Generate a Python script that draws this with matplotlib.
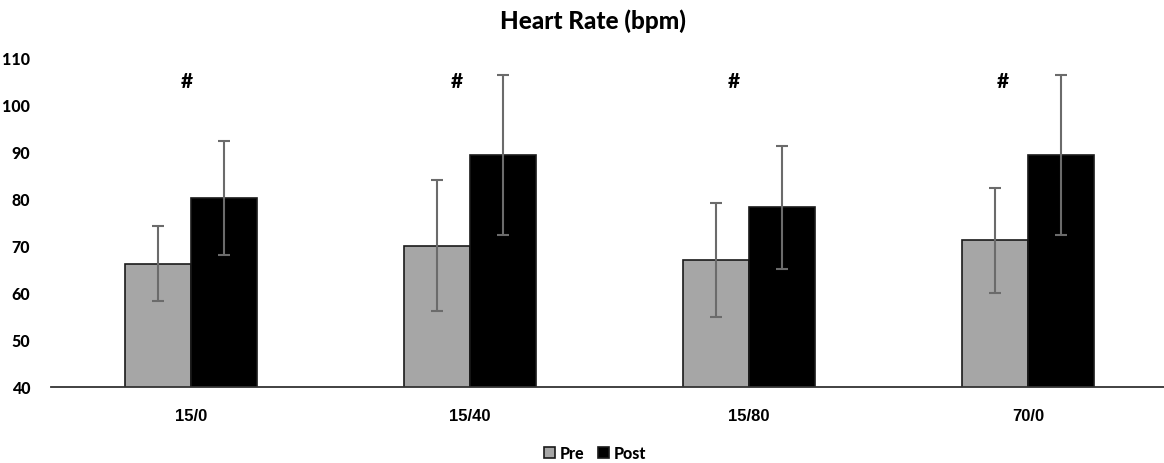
import matplotlib
matplotlib.use("Agg")
import matplotlib.pyplot as plt
import numpy as np

categories = ["15/0", "15/40", "15/80", "70/0"]
pre_values = [66.2, 70.1, 67.1, 71.2]
pre_errors = [8.0, 14.0, 12.1, 11.2]
post_values = [80.2, 89.4, 78.2, 89.4]
post_errors = [12.2, 17.0, 13.0, 17.0]
sig_marks = ["#", "#", "#", "#"]
sig_offsets = [-0.014, -0.047, -0.054, -0.09]
sig_y = 105.2
series_names = ["Pre", "Post"]

fig = plt.figure(figsize=(11.64, 4.64), dpi=100)
ax = fig.add_axes([51/1164, 1 - 388/464, (1168 - 51)/1164, (388 - 59)/464])

x = np.arange(len(categories))
w = 0.2366
err_kw = dict(ecolor="#6b6b6b", elinewidth=1.5, capsize=4, capthick=1.5)
ax.bar(x - w/2, pre_values, w, yerr=pre_errors, color="#a6a6a6", edgecolor="#1a1a1a",
       linewidth=1.2, error_kw=err_kw, label=series_names[0], zorder=2)
ax.bar(x + w/2, post_values, w, yerr=post_errors, color="#000000", edgecolor="#1a1a1a",
       linewidth=1.2, error_kw=err_kw, label=series_names[1], zorder=2)

for i, (m, off) in enumerate(zip(sig_marks, sig_offsets)):
    ax.text(i + off, sig_y, m, ha="center", va="center", fontsize=15,
            fontweight="black", family="Lato")

ax.set_xlim(-0.5, len(categories) - 0.5)
ax.set_ylim(40, 110)
ax.set_yticks(np.arange(40, 111, 10))
ax.set_xticks(x)
ax.set_xticklabels(categories, fontsize=12, fontweight="bold", family="Liberation Sans")
for lab in ax.get_yticklabels():
    lab.set_fontweight("black")
    lab.set_family("Lato")
    lab.set_fontsize(11.5)
ax.tick_params(axis="both", length=0)
ax.tick_params(axis="y", pad=15)
ax.tick_params(axis="x", pad=15)
for s in ["top", "right", "left"]:
    ax.spines[s].set_visible(False)
ax.spines["bottom"].set_color("#333333")
ax.spines["bottom"].set_linewidth(1.3)

fig.text(593/1164, 1 - 21/464, "Heart Rate (bpm)", ha="center", va="center",
         fontsize=17.5, fontweight="black", family="Lato")

leg = fig.legend(loc="center", bbox_to_anchor=(595/1164, 1 - 454/464), ncol=2, frameon=False,
                 prop={"family": "Lato", "weight": "black", "size": 11.5},
                 handlelength=0.7, handleheight=0.7, handletextpad=0.3, columnspacing=0.8)

fig.savefig("out.png", dpi=100)
